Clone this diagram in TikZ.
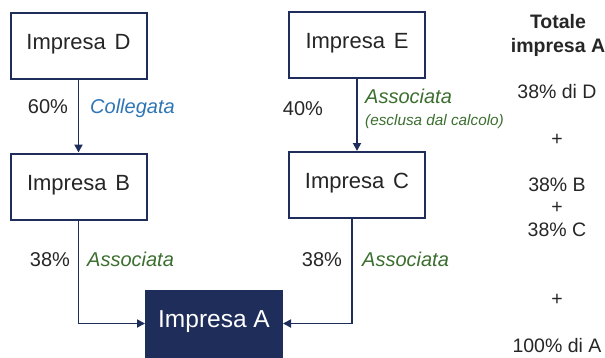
\documentclass[tikz,border=0pt]{standalone}
\usepackage{fontspec}
\setmainfont{Liberation Sans}
\usetikzlibrary{arrows.meta}
\definecolor{navy}{HTML}{1F2D5A}
\definecolor{txt}{HTML}{262626}
\definecolor{grn}{HTML}{3B6E2F}
\definecolor{blu}{HTML}{2E75B6}
\tikzset{
  box/.style={draw=navy, line width=2pt, fill=white, minimum width=136pt, minimum height=66pt, inner sep=0pt, text height=0.716em, text depth=0pt, font=\fontsize{22}{24}\selectfont, text=txt},
  boxA/.style={box, fill=navy, text=white, font=\fontsize{24.5}{27}\selectfont},
  lbl/.style={inner sep=0pt, text height=0.716em, text depth=0pt, font=\fontsize{20}{22}\selectfont, text=txt},
  rel/.style={lbl, anchor=west, font=\fontsize{20}{22}\selectfont\itshape},
  tot/.style={lbl, font=\fontsize{19.5}{21}\selectfont},
  conn/.style={navy, line width=1.8pt, -{Triangle[length=8pt,width=8pt]}},
}
\begin{document}
\begin{tikzpicture}[x=1pt,y=-1pt]
\useasboundingbox (0,0) rectangle (605,357);
\node[box] (D) at (78.5,45.5) {Impresa\hspace{0.4em}D};
\node[box] (E) at (357,44.5) {Impresa\hspace{0.4em}E};
\node[box] (B) at (78.5,186.5) {Impresa\hspace{0.4em}B};
\node[box] (C) at (357,185) {Impresa\hspace{0.4em}C};
\node[boxA] (A) at (214,323.5) {Impresa A};
\draw[conn] (D.south) -- (B.north);
\draw[conn] (E.south) -- (C.north);
\draw[conn] (B.south) |- (A.west);
\coordinate (Cout) at ([xshift=-5pt]C.south);
\draw[conn] (Cout) |- (A.east);
\node[lbl] (p60) at (48,110) {60\%};
\node[rel, text=blu] (coll) at (90,110) {Collegata};
\node[lbl] (p40) at (303,112) {40\%};
\node[rel, text=grn] (assE) at (365,100) {Associata};
\node[rel, text=grn, font=\fontsize{15.3}{17}\selectfont\itshape] (escl) at (365,122) {(esclusa dal calcolo)};
\node[lbl] (p38b) at (50,263) {38\%};
\node[rel, text=grn] (assB) at (87,263) {Associata};
\node[lbl] (p38c) at (322,263) {38\%};
\node[rel, text=grn] (assC) at (362,263) {Associata};
\node[tot, font=\fontsize{19.5}{21}\selectfont\bfseries] (t1) at (558,25) {Totale};
\node[tot, font=\fontsize{19.5}{21}\selectfont\bfseries] (t2) at (558,49) {impresa A};
\node[tot] (t3) at (557,95) {38\% di D};
\node[tot] (t4) at (557,142) {+};
\node[tot] (t5) at (557,188) {38\% B};
\node[tot] (t6) at (557,210) {+};
\node[tot] (t7) at (557,233) {38\% C};
\node[tot] (t8) at (557,302) {+};
\node[tot] (t9) at (557,349) {100\% di A};
\end{tikzpicture}
\end{document}
